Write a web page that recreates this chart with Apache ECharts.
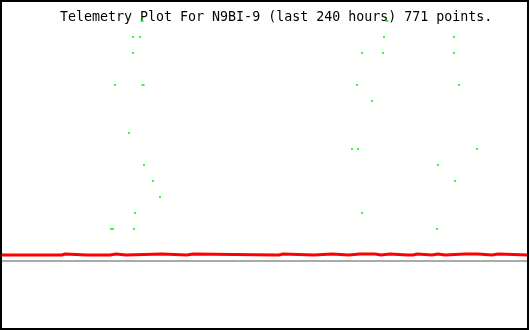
<!DOCTYPE html>
<html>
<head>
<meta charset="utf-8">
<script src="https://cdn.jsdelivr.net/npm/echarts@6/dist/echarts.min.js"></script>
<style>
html,body{margin:0;padding:0;background:#fff;}
#chart{width:530px;height:330px;}
</style>
</head>
<body>
<div id="chart"></div>
<script>
// Title
var titleText = "Telemetry Plot For N9BI-9 (last 240 hours) 771 points.";

// Red trace: change points (hours) and values (step)
var redHours  = [0, 8.20, 9.11, 27.78, 29.15, 39.17, 39.62, 49.64, 52.37, 56.93, 73.32, 84.71, 87.44,
                 125.24, 125.70, 126.61, 128.43, 142.55, 150.74, 158.48, 158.94, 159.39, 163.49,
                 164.40, 170.32, 173.05, 177.15, 185.35, 185.81, 187.63, 189.45, 196.28, 199.01,
                 202.20, 211.31, 212.22, 217.23, 223.61, 226.34, 240];
var redValues = [0.375, 0.4375, 0.375, 0.4375, 0.375, 0.4375, 0.375, 0.4375, 0.375, 0.4375, 0.375, 0.4375, 0.375,
                 0.4375, 0.375, 0.4375, 0.375, 0.4375, 0.375, 0.4375, 0.375, 0.4375, 0.375,
                 0.4375, 0.375, 0.4375, 0.375, 0.4375, 0.375, 0.4375, 0.375, 0.4375, 0.375,
                 0.4375, 0.375, 0.4375, 0.375, 0.4375, 0.375, 0.375];

// Green points (hours, level)
var greenHours  = [60.11, 63.30, 174.42, 206.30, 60.11, 164.40, 173.96, 206.30,
                   51.92, 162.13, 208.58, 168.96, 58.29, 159.85, 162.58, 216.78,
                   65.12, 199.01, 69.22, 206.76, 72.41, 61.02, 164.40, 50.10, 51.01, 60.57, 198.56];
var greenLevels = [14, 14, 14, 14, 13, 13, 13, 13,
                   11, 11, 11, 10, 8, 7, 7, 7,
                   6, 6, 5, 5, 4, 3, 3, 2, 2, 2, 2];
// larger green points
var bigHours  = [64.21, 175.79, 64.67];
var bigLevels = [15, 15, 11];

var baseline = 0;

var redData = redHours.map(function(h, i){ return [h, redValues[i]]; });
var greenData = greenHours.map(function(h, i){ return [h, greenLevels[i]]; });
var bigData = bigHours.map(function(h, i){ return [h, bigLevels[i]]; });

var chart = echarts.init(document.getElementById('chart'), null, {renderer:'canvas'});
chart.setOption({
  animation: false,
  backgroundColor: '#ffffff',
  title: {
    text: titleText,
    left: 60, top: 11, padding: 0, z: 5,
    textStyle: {fontFamily: 'DejaVu Sans Mono', fontSize: 13.3, fontWeight: 'normal', color: '#000'}
  },
  grid: {left: 1, right: 2, top: 5, bottom: 5, show: false},
  xAxis: {type: 'value', min: 0, max: 240, show: false},
  yAxis: {type: 'value', min: -4, max: 16, show: false},
  series: [
    {
      type: 'line', data: redData, step: 'end', symbol: 'none', z: 3,
      lineStyle: {color: '#ff0000', width: 3, join: 'miter', cap: 'butt'},
      markLine: {
        silent: true, symbol: 'none', label: {show: false},
        lineStyle: {color: '#aaaaaa', width: 2, type: 'solid'},
        data: [{yAxis: baseline}]
      }
    },
    {
      type: 'scatter', data: greenData, symbol: 'rect', symbolSize: [2, 2], z: 10,
      itemStyle: {color: '#00ff00'}
    },
    {
      type: 'scatter', data: bigData, symbol: 'rect', symbolSize: [3, 2], z: 10,
      itemStyle: {color: '#00ff00'}
    }
  ],
  graphic: [{
    type: 'rect', z: 100, silent: true,
    shape: {x: 1, y: 1, width: 527, height: 328},
    style: {fill: null, stroke: '#000', lineWidth: 2}
  }]
});
</script>
</body>
</html>
